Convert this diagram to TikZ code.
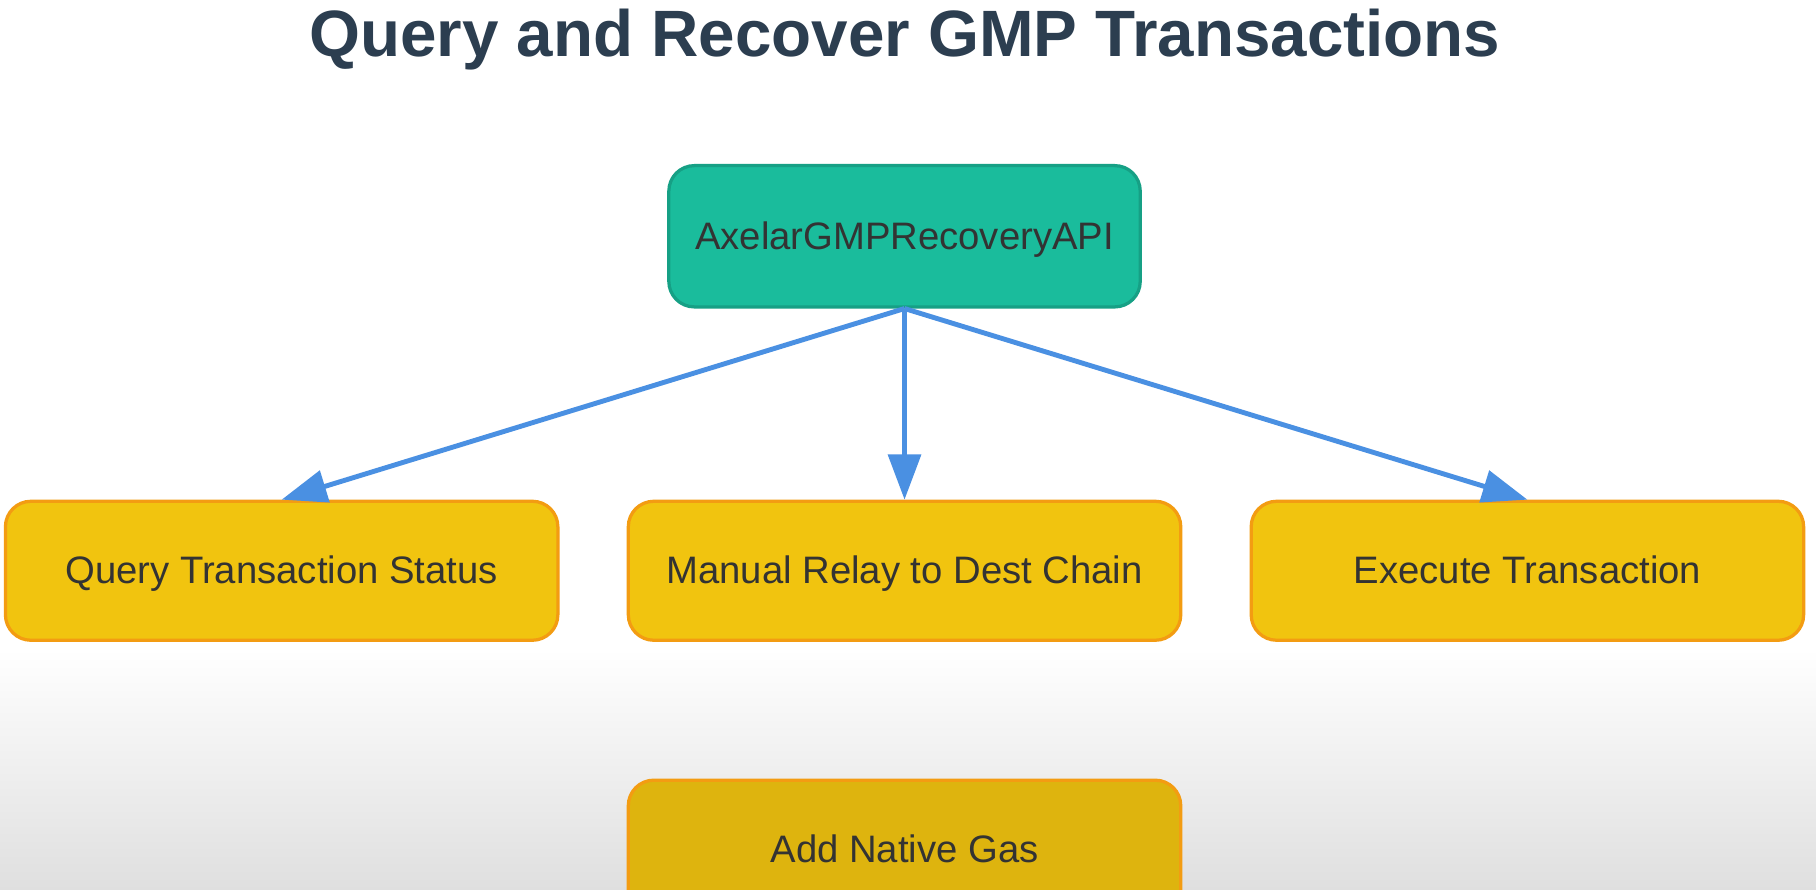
\documentclass[tikz,border=0pt]{standalone}
\usepackage{xcolor}
\usepackage{fontspec}
\setmainfont{Liberation Sans}
\usepackage{tikz}
\usetikzlibrary{shapes, arrows.meta, positioning, calc, backgrounds}
\definecolor{apiteal}{HTML}{1ABC9C}
\definecolor{apiedge}{HTML}{16A085}
\definecolor{taskyellow}{HTML}{F1C40F}
\definecolor{taskedge}{HTML}{F39C12}
\definecolor{flowblue}{HTML}{4A90E2}
\definecolor{titleslate}{HTML}{2C3E50}
\definecolor{labelgray}{HTML}{333333}
\tikzstyle{gmp.title} = [font=\bfseries\fontsize{16.1}{19}\selectfont, text=titleslate]
\tikzstyle{gmp.api} = [rectangle, fill=apiteal, draw=apiedge, line width=0.8pt, rounded corners=2.2mm, minimum width=40.7mm, minimum height=12.2mm, font=\fontsize{9.4}{11}\selectfont, text=labelgray, text height=1.6ex, text depth=0.4ex]
\tikzstyle{gmp.task} = [rectangle, fill=taskyellow, draw=taskedge, line width=0.8pt, rounded corners=2.2mm, minimum width=47.7mm, minimum height=12mm, font=\fontsize{9.4}{11}\selectfont, text=labelgray, text height=1.6ex, text depth=0.4ex]
\tikzstyle{gmp.flow} = [-{Triangle[length=3.9mm, width=2.8mm]}, line width=1.2pt, flowblue]

\begin{document}
\begin{tikzpicture}[node distance=0.58cm]
\useasboundingbox (0,0) rectangle (15.68,-7.68);
\clip (0,0) rectangle (15.68,-7.68);
\fill[white] (0,0) rectangle (15.68,-5.6);
\shade[top color=white, bottom color=gray!25] (0,-5.6) rectangle (15.68,-7.68);

\node[gmp.title] (title) at (7.81,-0.34) {Query and Recover GMP Transactions};
\node[gmp.api] (api) at (7.81,-2.04) {AxelarGMPRecoveryAPI};
\node[gmp.task, below=1.65cm of api] (relay) {Manual Relay to Dest Chain};
\node[gmp.task, left=of relay] (query) {Query Transaction Status};
\node[gmp.task, right=of relay] (execute) {Execute Transaction};
\node[gmp.task, below=1.18cm of relay, fill=taskyellow!92!black] (addgas) {Add Native Gas};

\draw[gmp.flow] (api.south) -- (query.north);
\draw[gmp.flow] (api.south) -- (relay.north);
\draw[gmp.flow] (api.south) -- (execute.north);
\end{tikzpicture}
\end{document}
